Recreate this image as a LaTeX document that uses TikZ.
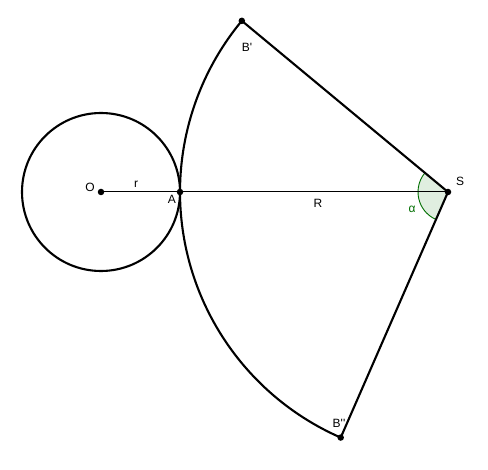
\documentclass[tikz,border=0pt]{standalone}
\usepackage{fontspec}
\setmainfont{Liberation Sans}
\usetikzlibrary{calc}
\definecolor{angcol}{RGB}{0,110,0}
\definecolor{angfill}{RGB}{224,238,224}
\begin{document}
\begin{tikzpicture}[x=1pt,y=-1pt,
  thickline/.style={line width=2.1pt,line join=round},
  thinline/.style={line width=1pt},
  dot/.style={circle,fill=black,inner sep=0pt,minimum size=6.5pt},
  lbl/.style={font=\fontsize{12}{14}\selectfont,inner sep=0pt}]
\useasboundingbox (0,0) rectangle (488,470);
\coordinate (O) at (101,192);
\coordinate (A) at (180,192);
\coordinate (S) at (448,192);
\coordinate (B1) at ({448+268*cos(140.3)},{192-268*sin(140.3)});
\coordinate (B2) at ({448+268*cos(246.4)},{192-268*sin(246.4)});
\coordinate (M1) at ({448+30*cos(140.3)},{192-30*sin(140.3)});
% angle mark
\fill[angfill] (S) -- (M1) arc[start angle=-140.3,end angle=-246.4,radius=30] -- cycle;
\draw[angcol,line width=0.9pt] (M1) arc[start angle=-140.3,end angle=-246.4,radius=30];
% circle
\draw[thickline] (O) circle[radius=79];
% segment O--S
\draw[thinline] (O) -- (S);
% sector
\draw[thickline] (B1) -- (S) -- (B2);
\draw[thickline] (B1) arc[start angle=-140.3,end angle=-246.4,radius=268];
% points
\node[dot] (o) at (O) {};
\node[dot] (a) at (A) {};
\node[dot] (s) at (S) {};
\node[dot] (b1) at (B1) {};
\node[dot] (b2) at (B2) {};
% labels
\node[lbl] (lo) at (90,187) {O};
\node[lbl] (lr) at (136,184) {r};
\node[lbl] (la) at (172,199) {A};
\node[lbl] (lR) at (318,203) {R};
\node[lbl] (ls) at (460,181) {S};
\node[lbl,text=angcol] (lal) at (412,209) {α};
\node[lbl] (lb1) at (247,47) {B\textquotesingle};
\node[lbl] (lb2) at (339,423) {B\textquotesingle\textquotesingle};
\end{tikzpicture}
\end{document}
